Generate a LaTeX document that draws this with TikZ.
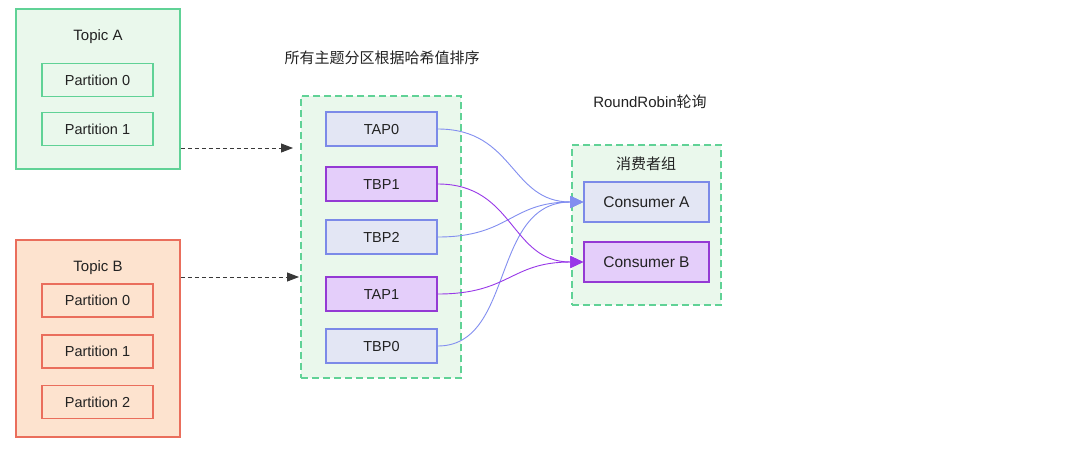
\documentclass[tikz,border=0pt]{standalone}
\usepackage{fontspec}
\setmainfont{Liberation Sans}
\newfontfamily\cjk{Noto Sans CJK SC}
\usetikzlibrary{arrows.meta}
\definecolor{gborder}{RGB}{96,210,150}
\definecolor{gfill}{RGB}{234,248,236}
\definecolor{oborder}{RGB}{234,110,92}
\definecolor{ofill}{RGB}{253,227,207}
\definecolor{bborder}{RGB}{124,138,232}
\definecolor{bfill}{RGB}{227,230,244}
\definecolor{pborder}{RGB}{148,58,212}
\definecolor{pfill}{RGB}{228,206,250}
\definecolor{bline}{RGB}{130,142,240}
\definecolor{pline}{RGB}{152,56,232}
\definecolor{txt}{RGB}{34,34,34}
\tikzset{
  boxfont/.style={font=\fontsize{14.5}{16}\selectfont,text=txt,text height=10.4pt,text depth=0pt},
  topicA/.style={draw=gborder,fill=gfill,line width=1.5pt,minimum width=164pt,minimum height=160pt,inner sep=0pt},
  topicB/.style={draw=oborder,fill=ofill,line width=1.5pt,minimum width=164pt,minimum height=197pt,inner sep=0pt},
  partA/.style={draw=gborder,fill=gfill,line width=1.5pt,minimum width=111pt,minimum height=33pt,inner sep=0pt,boxfont},
  partB/.style={draw=oborder,fill=ofill,line width=1.5pt,minimum width=111pt,minimum height=33pt,inner sep=0pt,boxfont},
  grp/.style={draw=gborder,fill=gfill,line width=1.5pt,dash pattern=on 7pt off 4pt,inner sep=0pt},
  bbox/.style={draw=bborder,fill=bfill,line width=1.5pt,minimum width=111pt,minimum height=34pt,inner sep=0pt,boxfont},
  pbox/.style={draw=pborder,fill=pfill,line width=1.5pt,minimum width=111pt,minimum height=34pt,inner sep=0pt,boxfont},
  cbox/.style={minimum width=125pt,minimum height=40pt,font=\fontsize{15.5}{17}\selectfont,text height=11.1pt},
  lbl/.style={font=\fontsize{15}{17}\selectfont,text=txt,inner sep=0pt,text height=10.8pt,text depth=0pt},
  cjklbl/.style={font=\cjk\fontsize{15}{17}\selectfont,text=txt,inner sep=0pt},
  dasharrow/.style={draw=txt!90,line width=0.9pt,dash pattern=on 4pt off 3pt,-{Triangle[length=12pt,width=9pt]}},
  bcurve/.style={draw=bline,line width=0.9pt,-{Triangle[length=13pt,width=12pt]}},
  pcurve/.style={draw=pline,line width=0.9pt,-{Triangle[length=13pt,width=12pt]}},
}
\begin{document}
\begin{tikzpicture}[x=1pt,y=-1pt]
\useasboundingbox[fill=white] (0,0) rectangle (1080,451);
% Topic A
\node[topicA] (ta) at (98,89) {};
\node[lbl] (tal) at (98,35) {Topic A};
\node[partA] (ta0) at (97.5,80) {Partition 0};
\node[partA] (ta1) at (97.5,129) {Partition 1};
% Topic B
\node[topicB] (tb) at (98,338.5) {};
\node[lbl] (tbl) at (98,266) {Topic B};
\node[partB] (tb0) at (97.5,300.5) {Partition 0};
\node[partB] (tb1) at (97.5,351.5) {Partition 1};
\node[partB] (tb2) at (97.5,402) {Partition 2};
% middle group
\node[cjklbl] (title) at (382,58) {所有主题分区根据哈希值排序};
\node[grp,minimum width=160pt,minimum height=282pt] (mid) at (381,237) {};
\node[bbox] (tap0) at (381.5,129) {TAP0};
\node[pbox] (tbp1) at (381.5,184) {TBP1};
\node[bbox] (tbp2) at (381.5,237) {TBP2};
\node[pbox] (tap1) at (381.5,294) {TAP1};
\node[bbox] (tbp0) at (381.5,346) {TBP0};
% consumer group
\node[lbl] (rr) at (650,102) {RoundRobin{\cjk 轮询}};
\node[grp,minimum width=149pt,minimum height=160pt] (cg) at (646.5,225) {};
\node[cjklbl] (cgl) at (646,164) {消费者组};
\node[bbox,cbox] (ca) at (646.5,202) {Consumer A};
\node[pbox,cbox] (cb) at (646.5,262) {Consumer B};
% dashed arrows
\coordinate (ea) at (293,148);
\coordinate (eb) at (299,277);
\draw[dasharrow] (ta.east |- ea) -- (ea);
\draw[dasharrow] (tb.east |- eb) -- (eb);
% curves
\draw[bcurve] (tap0.east) .. controls (515,129) and (510,202) .. (ca.west);
\draw[bcurve] (tbp2.east) .. controls (510,237) and (510,202) .. (ca.west);
\draw[bcurve] (tbp0.east) .. controls (515,346) and (490,202) .. (ca.west);
\draw[pcurve] (tbp1.east) .. controls (515,184) and (510,262) .. (cb.west);
\draw[pcurve] (tap1.east) .. controls (510,294) and (510,262) .. (cb.west);
\end{tikzpicture}
\end{document}
